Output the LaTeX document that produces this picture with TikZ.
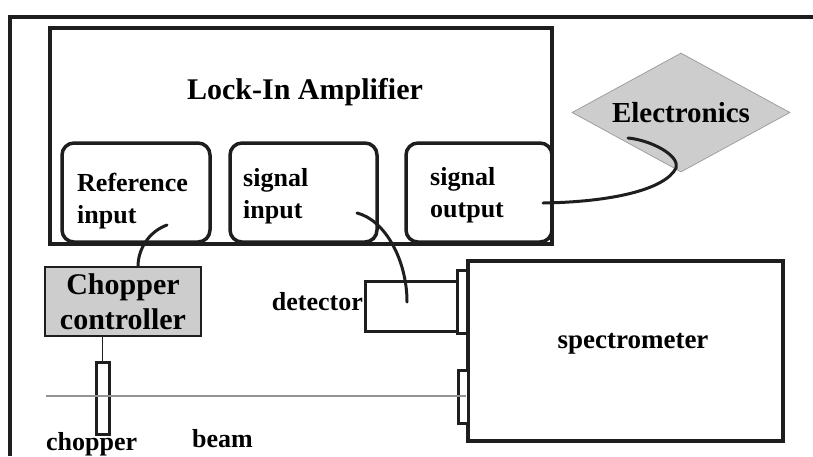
\documentclass[tikz,border=0pt]{standalone}
\usepackage{fontspec}
\setmainfont{Liberation Serif}
\usetikzlibrary{shapes.geometric,positioning,calc}
\definecolor{panelgray}{RGB}{205,205,205}
\definecolor{inkdark}{RGB}{30,30,30}
\tikzset{
  outline/.style={draw=inkdark,line width=4pt},
  box/.style={rectangle,draw=inkdark,line width=4pt,inner sep=0pt},
  port/.style={rectangle,draw=inkdark,line width=3.5pt,rounded corners=12pt,
    minimum width=#1,minimum height=99pt,inner sep=0pt},
  port/.default=147pt,
  porttxt/.style={font=\fontsize{26}{32}\selectfont\bfseries,align=left,
    inner sep=0pt,anchor=base west},
  lbl/.style={font=\fontsize{26}{30}\selectfont\bfseries,inner sep=0pt},
  bigtxt/.style={font=\fontsize{30}{35}\selectfont\bfseries,inner sep=0pt},
  shaded/.style={fill=panelgray,align=center,font=\fontsize{30}{35}\selectfont\bfseries},
  window/.style={rectangle,draw=inkdark,fill=white,line width=3pt,
    minimum width=10pt,inner sep=0pt},
  cable/.style={draw=inkdark,line width=3pt,line cap=round},
  beam/.style={draw=gray!85,line width=2.5pt}
}
\begin{document}
\begin{tikzpicture}[x=1pt,y=-1pt]
  \useasboundingbox (0,0) rectangle (813,456);
  \draw[outline] (813,17) -| (10,456);

  % lock-in amplifier and its three ports
  \node[box,minimum width=502pt,minimum height=216pt] (lockin) at (301,136) {};
  \node[bigtxt,anchor=base] (locktitle) at (305,99) {Lock-In Amplifier};
  \node[port=148pt] (refin) at (136,192.5) {};
  \node[port] (sigin) at (303.5,192.5) {};
  \node[port=146pt] (sigout) at (479,192.5) {};
  \node[porttxt] (reftxt) at (77,223) {Reference\\input};
  \node[porttxt] (sigintxt) at (243,218) {signal\\input};
  \node[porttxt] (sigouttxt) at (430,217) {signal\\output};

  \node[diamond,shaded,draw=gray!75,line width=0.8pt,aspect=1.83,
    minimum width=218pt,minimum height=119pt,inner sep=0pt,
    font=\fontsize{29}{34}\selectfont\bfseries] (elec) at (681,112.5) {Electronics};

  % chopper side
  \node[rectangle,shaded,draw=inkdark,line width=1.2pt,minimum width=156pt,
    minimum height=69pt,inner sep=0pt] (ctrl) at (123,301.5) {Chopper\\controller};
  \node[rectangle,draw=inkdark,line width=3pt,minimum width=13pt,
    minimum height=72pt,inner sep=0pt] (chopper) at (102.5,398) {};
  \node[lbl,anchor=base west] (choptxt) at (46,450) {chopper};
  \node[lbl,anchor=base west] (beamtxt) at (192,447) {beam};

  % detector and spectrometer
  \node[rectangle,draw=inkdark,line width=3pt,minimum width=95pt,
    minimum height=50pt,inner sep=0pt] (det) at (412.5,306) {};
  \node[lbl,anchor=base east] (dettxt) at (363,310) {detector};
  \node[box,minimum width=315pt,minimum height=180pt] (spec) at (625.5,351) {};
  \node[lbl,font=\fontsize{27}{32}\selectfont\bfseries] (spectxt) at (633,344) {spectrometer};
  \node[window,minimum height=63pt] (topwin) at (462.5,301.5) {};
  \node[window,minimum height=53pt] (lowwin) at (463,396.5) {};

  \coordinate (beamstart) at (46,396);
  \draw[beam] (beamstart) -- (beamstart -| spec.west);
  \draw[inkdark,line width=1pt] (chopper.north |- ctrl.south) -- (chopper.north);

  % cables
  \coordinate (refplug) at (167,225);
  \coordinate (sigplug) at (357,213);
  \coordinate (detplug) at (407,302);
  \coordinate (outplug) at (543,203);
  \coordinate (elecplug) at (628,138);
  \draw[cable] (refplug) .. controls (148,232) and (138,250) .. ($(ctrl.north)+(15,0)$);
  \draw[cable] (sigplug) .. controls (385,220) and (407,260) .. (detplug);
  \draw[cable] (outplug) .. controls (610,202) and (665,190) .. (676,168)
    .. controls (680,155) and (650,140) .. (elecplug);
\end{tikzpicture}
\end{document}
